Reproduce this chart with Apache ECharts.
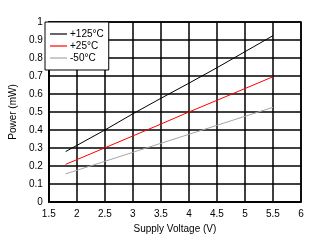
<!DOCTYPE html>
<html>
<head>
<meta charset="utf-8">
<script src="https://cdn.jsdelivr.net/npm/echarts@6/dist/echarts.min.js"></script>
<style>
  html, body { margin: 0; padding: 0; background: #fff; }
  #chart { width: 317px; height: 243px; }
</style>
</head>
<body>
<div id="chart"></div>
<script>
// supply voltage (V)
const voltage = [1.8, 2.5, 3, 3.5, 4, 4.5, 5, 5.5];
// power (mW) per temperature
const p125 = [0.28, 0.40, 0.49, 0.576, 0.66, 0.746, 0.835, 0.924];
const p25 = [0.209, 0.301, 0.367, 0.433, 0.5, 0.565, 0.63, 0.696];
const pm50 = [0.156, 0.226, 0.276, 0.326, 0.376, 0.426, 0.476, 0.526];
const names = ['+125°C', '+25°C', '-50°C'];

const font = 'Arial, "Liberation Sans", sans-serif';

function pairs(ys) {
  return voltage.map((v, i) => [v, ys[i]]);
}

const chart = echarts.init(document.getElementById('chart'));

chart.setOption({
  animation: false,
  backgroundColor: '#fff',
  grid: {
    left: 45, right: 16, top: 22, bottom: 41,
    show: true, borderColor: '#000', borderWidth: 1.5
  },
  legend: {
    orient: 'vertical',
    left: 45, top: 22,
    padding: [6, 5, 6, 5],
    itemGap: 0,
    itemWidth: 17,
    itemHeight: 12,
    icon: 'path://M0,0H17V1.2H0Z',
    backgroundColor: '#fff',
    borderColor: '#000',
    borderWidth: 1,
    borderRadius: 0,
    textStyle: { fontFamily: font, fontSize: 10, color: '#000', lineHeight: 12, padding: [0, 0, 0, -2] },
    data: names
  },
  xAxis: {
    type: 'value',
    min: 1.5, max: 6, interval: 0.5,
    name: 'Supply Voltage (V)',
    nameLocation: 'middle',
    nameGap: 20,
    nameTextStyle: { fontFamily: font, fontSize: 10, color: '#000' },
    axisLine: { lineStyle: { color: '#000', width: 1.5 } },
    axisTick: { show: false },
    axisLabel: { fontFamily: font, fontSize: 10, color: '#000', margin: 7 },
    splitLine: { lineStyle: { color: '#000', width: 1.5 } }
  },
  yAxis: {
    type: 'value',
    min: 0, max: 1, interval: 0.1,
    name: 'Power (mW)',
    nameLocation: 'middle',
    nameGap: 28,
    nameTextStyle: { fontFamily: font, fontSize: 10, color: '#000' },
    axisLine: { lineStyle: { color: '#000', width: 1.5 } },
    axisTick: { show: false },
    axisLabel: { fontFamily: font, fontSize: 10, color: '#000', margin: 6 },
    splitLine: { lineStyle: { color: '#000', width: 1.5 } }
  },
  series: [
    { name: names[0], type: 'line', symbol: 'none', data: pairs(p125), lineStyle: { color: '#000', width: 1 }, itemStyle: { color: '#000' } },
    { name: names[1], type: 'line', symbol: 'none', data: pairs(p25), lineStyle: { color: '#ff0000', width: 1 }, itemStyle: { color: '#ff0000' } },
    { name: names[2], type: 'line', symbol: 'none', data: pairs(pm50), lineStyle: { color: '#a6a6a6', width: 1 }, itemStyle: { color: '#a6a6a6' } }
  ]
});
</script>
</body>
</html>
